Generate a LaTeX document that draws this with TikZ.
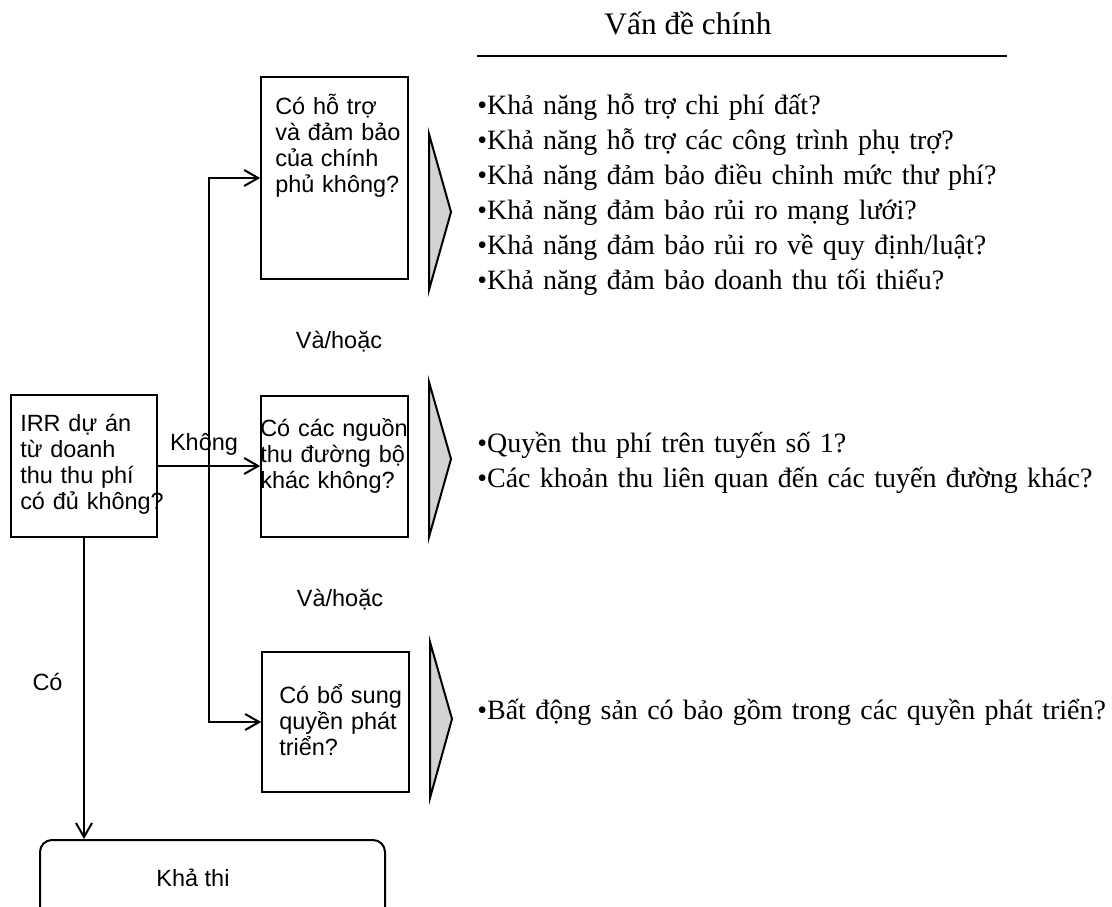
\documentclass[tikz,border=0pt]{standalone}
\usepackage{fontspec}
\setmainfont{Liberation Serif}
\setsansfont{Liberation Sans}
\usetikzlibrary{arrows.meta,positioning}
\definecolor{trigray}{RGB}{211,211,211}
\tikzset{
    qbox/.style={draw, line width=1.5pt, minimum width=110pt},
    qtext/.style={anchor=base west, inner sep=0pt, align=left, text width=150pt,
        font=\sffamily\fontsize{17.6pt}{19.5pt}\selectfont},
    lbl/.style={anchor=base, inner sep=0pt, font=\sffamily\fontsize{17.6pt}{19.5pt}\selectfont},
    issues/.style={anchor=base west, inner sep=0pt, align=left, text width=520pt,
        font=\fontsize{21pt}{26.25pt}\selectfont},
    flow/.style={line width=1.5pt, -{Straight Barb[length=10.5pt,width=12pt]}},
    tri/.style={draw, line width=1.5pt, fill=trigray, line join=miter}
}
\begin{document}
\begin{tikzpicture}[x=0.75pt,y=-0.75pt]
    \useasboundingbox (0,0) rectangle (1112,906);
    \clip (0,0) rectangle (1112,906);
    % cac hop cau hoi
    \node[qbox, minimum height=106.5pt] (irr) at (84,466) {};
    \node[qbox, minimum height=151.5pt] (govt) at (334.5,178) {};
    \node[qbox, minimum height=105.75pt] (roads) at (334.5,466) {};
    \node[qbox, minimum height=105pt] (dev) at (335.5,722) {};
    \node[draw, line width=1.5pt, rounded corners=9pt, minimum width=258.75pt, minimum height=60pt] (feasible) at (212.5,880) {};
    \node[qtext] (irrtxt) at (20,431) {IRR dự án\\từ doanh\\thu thu phí\\có đủ không?};
    \node[qtext] (govttxt) at (275,114) {Có hỗ trợ\\và đảm bảo\\của chính\\phủ không?};
    \node[qtext] (roadstxt) at (260,436) {Có các nguồn\\thu đường bộ\\khác không?};
    \node[qtext] (devtxt) at (279,703) {Có bổ sung\\quyền phát\\triển?};
    \node[lbl] (feastxt) at (193,886) {Khả thi};
    % mui ten
    \coordinate (split) at (209,466);
    \draw[flow] (split) |- (govt.west);
    \draw[flow] (split) |- (dev.west);
    \draw[flow] (irr.east) -- (roads.west);
    \draw[flow] (irr.south) -- (irr.south |- feasible.north);
    \node[lbl] (no) at (204,450) {Không};
    \node[lbl] (yes) at (47.5,690) {Có};
    \node[lbl] (andor1) at (339,348) {Và/hoặc};
    \node[lbl] (andor2) at (340,606) {Và/hoặc};
    % tam giac
    \draw[tri] (429,134) -- (451,212) -- (429,290) -- cycle;
    \draw[tri] (429,382) -- (451,459) -- (429,537) -- cycle;
    \draw[tri] (430,642) -- (452,719) -- (430,798) -- cycle;
    % van de chinh
    \node[anchor=base, inner sep=0pt, font=\fontsize{23.5pt}{26pt}\selectfont] (title) at (688,35) {Vấn đề chính};
    \draw[line width=1.5pt] (477,56) -- (1007,56);
    \node[issues] (govtlist) at (477,114) {•Khả năng hỗ trợ chi phí đất?\\•Khả năng hỗ trợ các công trình phụ trợ?\\•Khả năng đảm bảo điều chỉnh mức thư phí?\\•Khả năng đảm bảo rủi ro mạng lưới?\\•Khả năng đảm bảo rủi ro về quy định/luật?\\•Khả năng đảm bảo doanh thu tối thiểu?};
    \node[issues] (roadslist) at (477,452) {•Quyền thu phí trên tuyến số 1?\\•Các khoản thu liên quan đến các tuyến đường khác?};
    \node[issues] (devlist) at (477,719) {•Bất động sản có bảo gồm trong các quyền phát triển?};
\end{tikzpicture}
\end{document}
